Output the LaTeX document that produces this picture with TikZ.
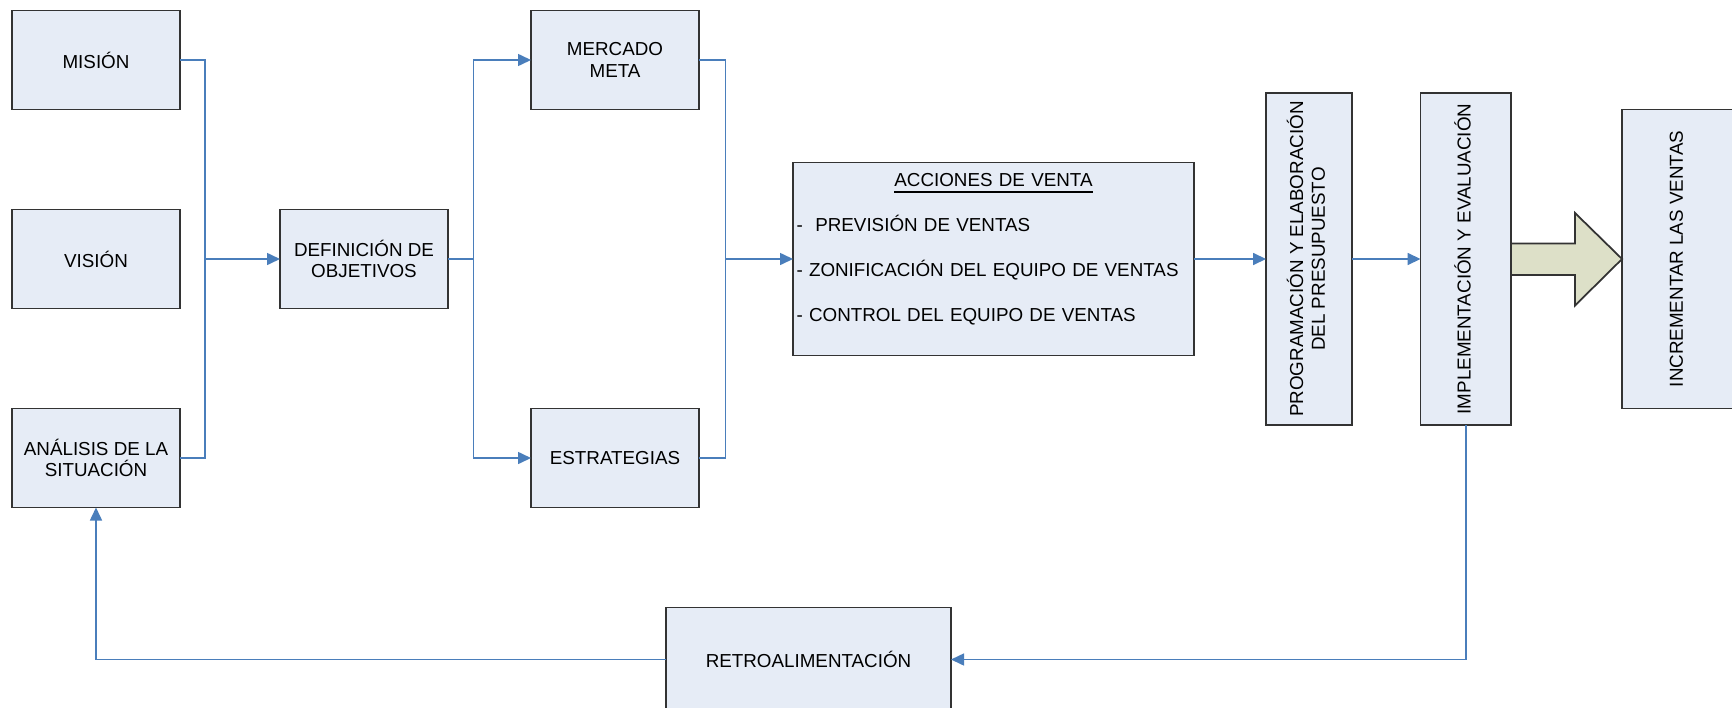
\documentclass[tikz,border=0pt]{standalone}
\usepackage{fontspec}
\setmainfont{Liberation Sans}
\usetikzlibrary{positioning, arrows.meta}
\definecolor{cajafondo}{HTML}{E6ECF6}
\definecolor{azullinea}{HTML}{4A7EBB}
\definecolor{flechafondo}{HTML}{DDE0C8}
\newcommand{\textovert}[1]{\rotatebox{90}{\begin{tabular}{@{}c@{}}#1\end{tabular}}}

\begin{document}
\begin{tikzpicture}[
        font=\fontsize{5.35}{6.2}\selectfont,
        caja/.style={rectangle, draw=black!80, fill=cajafondo, line width=0.5pt, align=center, inner sep=1pt, outer sep=0pt, minimum width=1.68cm, minimum height=0.99cm},
        cajavert/.style={caja, minimum height=3.32cm},
        flecha/.style={-{Triangle[length=0.13cm, width=0.12cm]}, draw=azullinea, line width=0.45pt},
        linea/.style={draw=azullinea, line width=0.45pt},
        flechagrande/.style={draw=black!80, fill=flechafondo, line width=0.5pt}
    ]
        \useasboundingbox (0,0) rectangle (17.32,-7.07);
        % columna izquierda
        \node (mision) [caja] at (0.96,-0.60) {MISIÓN};
        \node (vision) [caja, below=1.0cm of mision] {VISIÓN};
        \node (analisis) [caja, below=1.0cm of vision] {ANÁLISIS DE LA\\SITUACIÓN};
        \node (definicion) [caja, right=1.0cm of vision] {DEFINICIÓN DE\\OBJETIVOS};
        \node (mercado) [caja, above right=1.0cm and 0.83cm of definicion] {MERCADO\\META};
        \node (estrategias) [caja, below right=1.0cm and 0.83cm of definicion] {ESTRATEGIAS};
        \node (acciones) [caja, right=3.45cm of definicion, text width=3.94cm, minimum height=1.93cm, align=left, font=\fontsize{5.35}{12.8}\selectfont] {\centerline{\underline{ACCIONES DE VENTA}}
            -\ \ PREVISIÓN DE VENTAS\\
            - ZONIFICACIÓN DEL EQUIPO DE VENTAS\\
            - CONTROL DEL EQUIPO DE VENTAS\rule[-0.225cm]{0pt}{0pt}};
        \node (programacion) [cajavert, right=0.72cm of acciones, minimum width=0.86cm] {\textovert{PROGRAMACIÓN Y ELABORACIÓN\\DEL PRESUPUESTO}};
        \node (implementacion) [cajavert, right=0.685cm of programacion, minimum width=0.905cm] {\textovert{IMPLEMENTACIÓN Y EVALUACIÓN}};
        \node (incrementar) [caja, right=1.11cm of implementacion, minimum width=1.13cm, minimum height=2.99cm] {\textovert{INCREMENTAR LAS VENTAS}};
        \node (retro) [caja, below right=1.0cm and 4.86cm of analisis, minimum width=2.85cm, minimum height=1.04cm] {RETROALIMENTACIÓN};
        % puntos de union
        \coordinate [right=0.25cm of vision] (unionA);
        \coordinate [right=0.255cm of definicion] (unionB);
        \coordinate [left=0.675cm of acciones] (unionC);
        % conectores
        \draw [linea] (mision.east) -- ++(0.25,0) |- (analisis.east);
        \draw [flecha] (unionA) -- (definicion);
        \draw [linea] (definicion) -- (unionB);
        \draw [flecha] (unionB) |- (mercado);
        \draw [flecha] (unionB) |- (estrategias);
        \draw [linea] (mercado.east) -- ++(0.265,0) |- (estrategias.east);
        \draw [flecha] (unionC) -- (acciones);
        \draw [flecha] (acciones) -- (programacion);
        \draw [flecha] (programacion) -- (implementacion);
        \draw [flecha] (implementacion.south) |- (retro);
        \draw [flecha] (retro) -| (analisis);
        % flecha grande
        \draw [flechagrande] (implementacion.east) ++(0,0.155) -- ++(0.64,0) -- ++(0,0.305) -- (incrementar.west) -- ++(-0.47,-0.465) -- ++(0,0.305) -- ++(-0.64,0) -- cycle;
    \end{tikzpicture}
\end{document}
